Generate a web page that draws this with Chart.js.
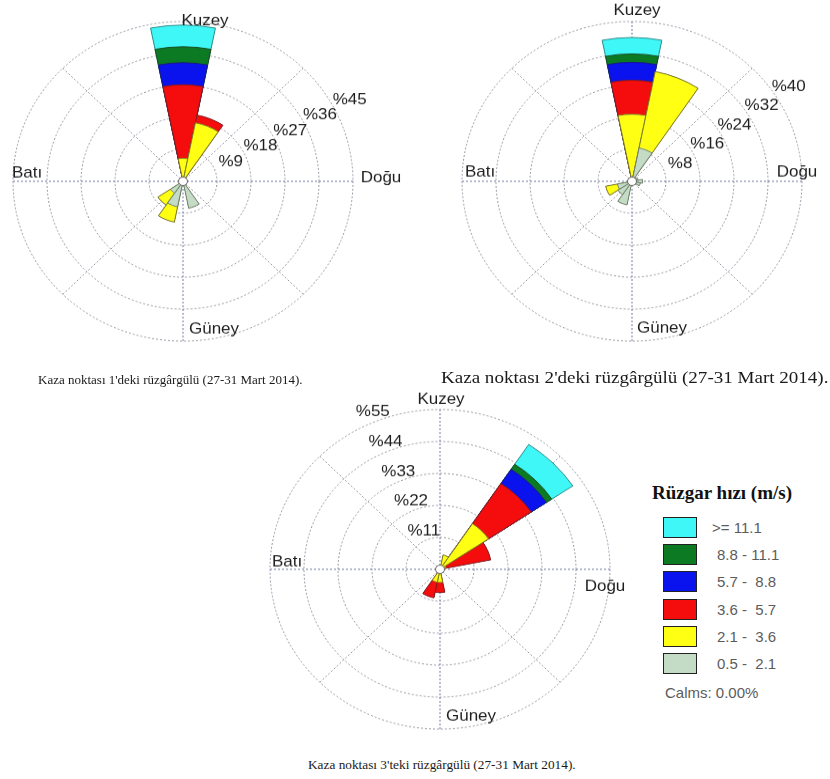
<!DOCTYPE html>
<html>
<head>
<meta charset="utf-8">
<script src="https://cdn.jsdelivr.net/npm/chart.js@4.4.1/dist/chart.umd.min.js"></script>
<style>
  html, body { margin: 0; padding: 0; background: #fff; }
  body { width: 830px; height: 779px; position: relative; overflow: hidden; font-family: "Liberation Sans", Arial, sans-serif; }
  .rose { position: absolute; transform-origin: 0 0; transform: scaleY(0.94); }
  .cap { position: absolute; font-family: "Liberation Serif", "Times New Roman", serif; color: #1a1a1a; white-space: nowrap; line-height: 1; transform-origin: 0 50%; }
  .lg-title { position: absolute; left: 652px; top: 483px; font-family: "Liberation Serif", "Times New Roman", serif; font-weight: bold; font-size: 19px; line-height: 1; color: #111; white-space: nowrap; }
  .lg-box { position: absolute; left: 663px; width: 34px; height: 21px; box-sizing: border-box; border: 1.5px solid #222; }
  .lg-text { position: absolute; font-size: 15px; line-height: 1; color: #5c5c5c; white-space: pre; }
</style>
</head>
<body>
<canvas id="rose1" class="rose" width="420" height="390" style="left:0px; top:-2px;"></canvas>
<canvas id="rose2" class="rose" width="388" height="390" style="left:442px; top:-2px;"></canvas>
<canvas id="rose3" class="rose" width="372" height="390" style="left:262px; top:386px;"></canvas>

<div class="cap" style="left:38px; top:373px; font-size:13px;">Kaza noktası 1'deki rüzgârgülü (27-31 Mart 2014).</div>
<div class="cap" style="left:441px; top:370px; font-size:16px; transform: scaleX(1.19);">Kaza noktası 2'deki rüzgârgülü (27-31 Mart 2014).</div>
<div class="cap" style="left:308px; top:758px; font-size:13.3px;">Kaza noktası 3'teki rüzgârgülü (27-31 Mart 2014).</div>

<div class="lg-title">Rüzgar hızı (m/s)</div>
<div id="legend"></div>

<script>
// 16 compass sectors, clockwise from north (Kuzey)
const directions = ['K', 'KKD', 'KD', 'DKD', 'D', 'DGD', 'GD', 'GGD', 'G', 'GGB', 'GB', 'BGB', 'B', 'BKB', 'KB', 'KKB'];

// Wind speed bands (m/s), slowest first
const speedBins = ['0.5 -  2.1', '2.1 -  3.6', '3.6 -  5.7', '5.7 -  8.8', '8.8 - 11.1', '>= 11.1'];
const calmsText = 'Calms: 0.00%';

// Point 1: % frequency per sector for each speed band
const p1_0521  = [0.7, 0.5, 0, 0, 0, 0, 0, 7.7, 0, 7.3, 4.0, 0, 0, 0, 0, 0];
const p1_2136  = [5.8, 16.3, 0, 0, 0, 0, 0, 0, 0, 4.4, 4.0, 0, 0, 0, 0, 0];
const p1_3657  = [20.7, 2.2, 0, 0, 0, 0, 0, 0, 0, 0, 0, 0, 0, 0, 0, 0];
const p1_5788  = [6.2, 0, 0, 0, 0, 0, 0, 0, 0, 0, 0, 0, 0, 0, 0, 0];
const p1_88111 = [4.5, 0, 0, 0, 0, 0, 0, 0, 0, 0, 0, 0, 0, 0, 0, 0];
const p1_111   = [6.1, 0, 0, 0, 0, 0, 0, 0, 0, 0, 0, 0, 0, 0, 0, 0];
const p1Rings  = [9, 18, 27, 36, 45];

// Point 2
const p2_0521  = [1.0, 8.5, 0, 1.5, 2.5, 2.0, 0, 0, 0, 6.0, 4.0, 3.5, 0, 0, 0, 0];
const p2_2136  = [15.8, 19.5, 0, 0, 0, 0, 0, 0, 0, 0, 0, 2.8, 0, 0, 0, 0];
const p2_3657  = [8.5, 0, 0, 0, 0, 0, 0, 0, 0, 0, 0, 0, 0, 0, 0, 0];
const p2_5788  = [4.5, 0, 0, 0, 0, 0, 0, 0, 0, 0, 0, 0, 0, 0, 0, 0];
const p2_88111 = [2.1, 0, 0, 0, 0, 0, 0, 0, 0, 0, 0, 0, 0, 0, 0, 0];
const p2_111   = [4.1, 0, 0, 0, 0, 0, 0, 0, 0, 0, 0, 0, 0, 0, 0, 0];
const p2Rings  = [8, 16, 24, 32, 40];

// Point 3
const p3_0521  = [0, 1.0, 0.5, 0.5, 0, 0, 0, 0, 0.5, 0.5, 0, 0, 0, 0, 0, 0];
const p3_2136  = [0, 4.0, 18.4, 1.5, 0, 0, 0, 0, 4.0, 4.0, 0, 0, 0, 0, 0, 0];
const p3_3657  = [0, 0, 16.6, 14.7, 0, 0, 0, 0, 3.5, 5.5, 0, 0, 0, 0, 0, 0];
const p3_5788  = [0, 0, 5.9, 0, 0, 0, 0, 0, 0, 0, 0, 0, 0, 0, 0, 0];
const p3_88111 = [0, 0, 2.1, 0, 0, 0, 0, 0, 0, 0, 0, 0, 0, 0, 0, 0];
const p3_111   = [0, 0, 8.2, 0, 0, 0, 0, 0, 0, 0, 0, 0, 0, 0, 0, 0];
const p3Rings  = [11, 22, 33, 44, 55];

// Styling
const binColors  = ['#c4dcc6', '#ffff14', '#f50c0c', '#0a12ee', '#0b7a22', '#3ff7f7'];
const binBorders = ['#6f7f6f', '#7c7c2a', '#8a1a1a', '#1a1a80', '#1a4a22', '#2a8a8a'];
const SQUASH = 0.94;   // vertical scale applied to each rose canvas (CSS)

function makeRose(id, bands, rings, look) {
  const maxV = rings[rings.length - 1];
  const cumulative = [];
  bands.forEach((band, k) => {
    cumulative.push(band.map((v, i) => (k ? cumulative[k - 1][i] : 0) + v));
  });

  const datasets = cumulative.map((vals, k) => ({
    label: speedBins[k],
    data: vals,
    backgroundColor: binColors[k],
    borderColor: binBorders[k],
    borderWidth: (c) => (bands[k][c.dataIndex] > 0 ? 1 : 0)
  }));

  const frame = {
    id: 'roseFrame',
    beforeDatasetsDraw(chart) {
      const s = chart.scales.r, ctx = chart.ctx;
      const R = s.getDistanceFromCenterForValue(maxV);
      ctx.save();
      ctx.lineWidth = 1;
      ctx.setLineDash([2, 2]);
      for (let b = 0; b < 360; b += 45) {
        const a = (b - 90) * Math.PI / 180;
        ctx.strokeStyle = b % 90 === 0 ? '#6f76a6' : '#9a9aa6';
        ctx.beginPath();
        ctx.moveTo(s.xCenter, s.yCenter);
        ctx.lineTo(s.xCenter + R * Math.cos(a), s.yCenter + R * Math.sin(a));
        ctx.stroke();
      }
      ctx.restore();
    },
    afterDatasetsDraw(chart) {
      const s = chart.scales.r, ctx = chart.ctx;
      ctx.save();
      ctx.beginPath();
      ctx.arc(s.xCenter, s.yCenter, 4.5, 0, Math.PI * 2);
      ctx.fillStyle = '#fff';
      ctx.fill();
      ctx.lineWidth = 1;
      ctx.strokeStyle = '#666';
      ctx.stroke();
      ctx.restore();
    },
    afterDraw(chart) {
      const s = chart.scales.r, ctx = chart.ctx;
      ctx.save();
      ctx.font = '17px "Liberation Sans", Arial, sans-serif';
      ctx.fillStyle = '#1e1e1e';
      ctx.textAlign = 'center';
      ctx.textBaseline = 'middle';
      look.dirLabels.forEach(([txt, dx, dy]) => {
        ctx.fillText(txt, s.xCenter + dx, s.yCenter + dy / SQUASH);
      });
      const th = look.ringAngle * Math.PI / 180;
      rings.forEach((v) => {
        const r = s.getDistanceFromCenterForValue(v);
        const x = s.xCenter + r * Math.cos(th) + look.ringPad[0];
        const y = s.yCenter - r * Math.sin(th) + look.ringPad[1] / SQUASH;
        ctx.fillText('%' + v, x, y);
      });
      ctx.restore();
    }
  };

  return new Chart(document.getElementById(id), {
    type: 'polarArea',
    data: { labels: directions, datasets },
    options: {
      responsive: false,
      animation: false,
      layout: { padding: look.padding },
      plugins: { legend: { display: false }, tooltip: { enabled: false } },
      scales: {
        r: {
          min: 0,
          max: maxV,
          startAngle: -11.25,
          ticks: { display: false, stepSize: rings[1] - rings[0] },
          grid: { color: '#9696a4', lineWidth: 1, circular: true },
          border: { dash: [2, 2] },
          angleLines: { display: false },
          pointLabels: { display: false }
        }
      }
    },
    plugins: [frame]
  });
}

makeRose('rose1', [p1_0521, p1_2136, p1_3657, p1_5788, p1_88111, p1_111], p1Rings, {
  padding: { left: 13, right: 67, top: 25, bottom: 25 },
  dirLabels: [['Kuzey', 22, -160], ['Batı', -156, -8], ['Doğu', 198, -3], ['Güney', 31, 148]],
  ringAngle: 29, ringPad: [18, -4]
});
makeRose('rose2', [p2_0521, p2_2136, p2_3657, p2_5788, p2_88111, p2_111], p2Rings, {
  padding: { left: 20, right: 28, top: 25, bottom: 25 },
  dirLabels: [['Kuzey', 5, -171], ['Batı', -152, -9], ['Doğu', 165, -9], ['Güney', 30, 147]],
  ringAngle: 37, ringPad: [21, 1.5]
});
makeRose('rose3', [p3_0521, p3_2136, p3_3657, p3_5788, p3_88111, p3_111], p3Rings, {
  padding: { left: 8, right: 24, top: 25, bottom: 25 },
  dirLabels: [['Kuzey', 1, -170], ['Batı', -153, -7], ['Doğu', 165, 17], ['Güney', 31, 147]],
  ringAngle: 112, ringPad: [-3.5, -9]
});

// Shared speed legend, fastest band on top
const legend = document.getElementById('legend');
const order = speedBins.map((_, i) => i).reverse();
order.forEach((k, row) => {
  const top = 517 + row * 27.2;
  const box = document.createElement('div');
  box.className = 'lg-box';
  box.style.top = top + 'px';
  box.style.background = binColors[k];
  legend.appendChild(box);
  const t = document.createElement('div');
  t.className = 'lg-text';
  t.style.left = (row === 0 ? 712 : 717) + 'px';
  t.style.top = (top + 3) + 'px';
  t.textContent = speedBins[k];
  legend.appendChild(t);
});
const calms = document.createElement('div');
calms.className = 'lg-text';
calms.style.left = '665px';
calms.style.top = '685px';
calms.textContent = calmsText;
legend.appendChild(calms);
</script>
</body>
</html>
